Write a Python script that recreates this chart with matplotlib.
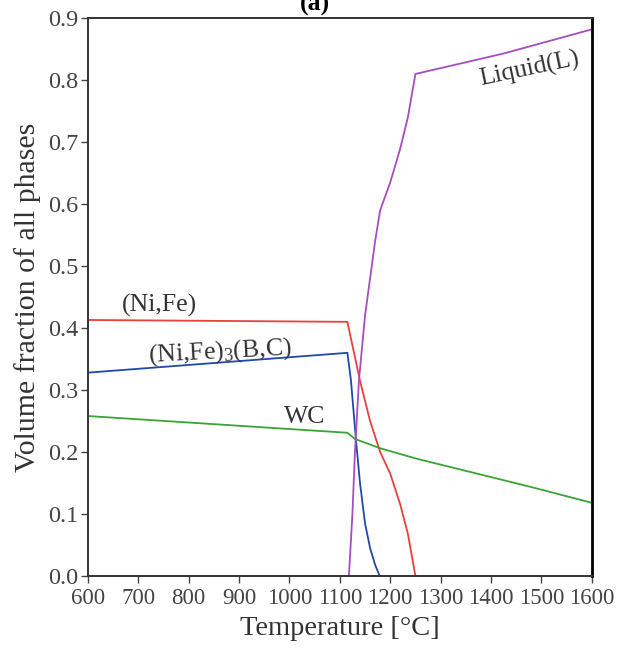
import numpy as np
import matplotlib
matplotlib.use('Agg')
import matplotlib.pyplot as plt

plt.rcParams['font.family'] = ['Liberation Serif', 'DejaVu Serif']
plt.rcParams['mathtext.fontset'] = 'custom'
plt.rcParams['mathtext.rm'] = 'Liberation Serif'
plt.rcParams['mathtext.default'] = 'regular'

# (Ni,Fe)
t_nife = [600, 1115, 1140, 1160, 1180, 1200, 1220, 1235, 1250]
v_nife = [0.413, 0.410, 0.315, 0.250, 0.200, 0.165, 0.115, 0.068, 0.0]

# (Ni,Fe)3(B,C)
t_bor = [600, 1115, 1122, 1132, 1140, 1150, 1160, 1170, 1179]
v_bor = [0.328, 0.360, 0.316, 0.220, 0.150, 0.085, 0.045, 0.018, 0.0]

# WC
t_wc = [600, 1115, 1130, 1180, 1253, 1477, 1600]
v_wc = [0.258, 0.231, 0.221, 0.206, 0.189, 0.144, 0.118]

# Liquid(L)
t_liq = [1118, 1125, 1130, 1138, 1150, 1160, 1170, 1180, 1200, 1220, 1235, 1250, 1425, 1600]
v_liq = [0.0, 0.10, 0.20, 0.316, 0.42, 0.48, 0.54, 0.59, 0.635, 0.69, 0.74, 0.81, 0.843, 0.882]

fig = plt.figure(figsize=(6.19, 6.5), dpi=100)
ax = fig.add_axes([0.142, 0.114, 0.814, 0.858])

ax.plot(t_nife, v_nife, color='#e8413c', lw=1.3)
ax.plot(t_bor, v_bor, color='#1f4aa8', lw=1.3)
ax.plot(t_wc, v_wc, color='#3aa335', lw=1.3)
ax.plot(t_liq, v_liq, color='#a64dbf', lw=1.3)

fs = 18.5
ax.text(741, 0.437, '(Ni,Fe)', fontsize=fs, ha='center', va='center', color='#333333')
ax.text(862, 0.362, '(Ni,Fe)$_3$(B,C)', fontsize=fs, ha='center', va='center',
        rotation=3, color='#333333')
ax.text(1030, 0.257, 'WC', fontsize=fs, ha='center', va='center', color='#333333')
ax.text(1477, 0.818, 'Liquid(L)', fontsize=fs, ha='center', va='center',
        rotation=12, color='#333333')

ax.set_xlim(600, 1600)
ax.set_ylim(0, 0.9)
ax.set_xticks(np.arange(600, 1601, 100))
ax.set_yticks(np.arange(0, 0.91, 0.1))
ax.set_yticklabels(['%.1f' % v for v in np.arange(0, 0.91, 0.1)])
ax.tick_params(direction='out', length=5, width=1, colors='#444444',
               labelcolor='#444444', pad=2)
ax.tick_params(axis='x', labelsize=16.5, pad=4)
ax.tick_params(axis='y', labelsize=17.5)
for s in ax.spines.values():
    s.set_linewidth(1.4)
    s.set_color('#333333')
ax.spines['right'].set_color('black')
ax.spines['right'].set_linewidth(2)

ax.set_xlabel('Temperature [°C]', fontsize=20.5, color='#333333', labelpad=5)
ax.set_ylabel('Volume fraction of all phases', fontsize=21.5, color='#333333', labelpad=5)

fig.text(0.508, 0.984, '(a)', fontsize=fs, fontweight='bold', ha='center', va='baseline')

fig.savefig('out.png', dpi=100)
